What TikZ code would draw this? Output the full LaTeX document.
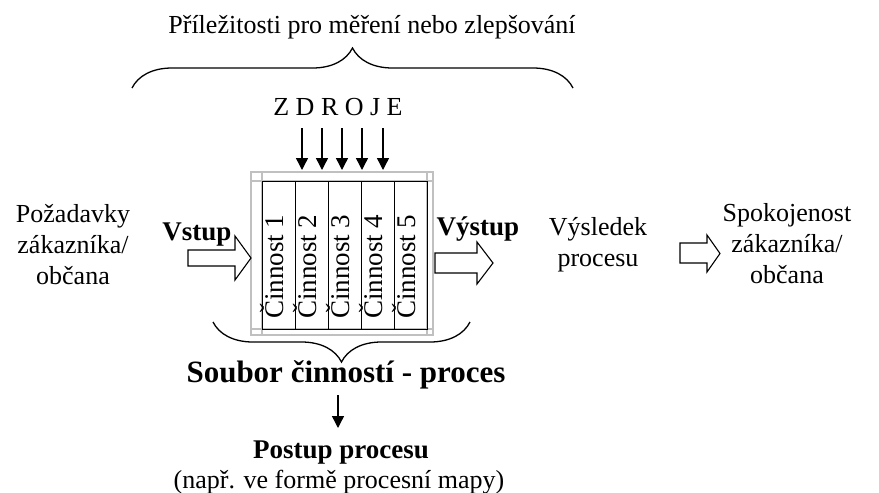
\documentclass[tikz,border=0pt]{standalone}
\usepackage{fontspec}
\setmainfont{Liberation Serif}
\usepackage{tikz}
\usetikzlibrary{
	arrows.meta,
	positioning,
	decorations.pathreplacing
}
\definecolor{frame}{RGB}{192,192,192}
\tikzset{
  % arrow
	cstra/.style      ={-{Triangle[length=12pt,width=12pt]}, line width=1.4pt}, % down arrow
	csthollow/.style  ={draw=black, line width=1.1pt, fill=white, line join=miter}, % open arrow
  % brace
	cstbrace/.style   ={line width=1.3pt, decorate, decoration={brace, amplitude=40pt}},
  % frame
	cstframe/.style   ={draw=frame, line width=1.2pt},
	cstcol/.style     ={draw=black, line width=1.2pt, minimum width=33, minimum height=148, inner sep=0, anchor=north west},
  % text
	csttext/.style    ={font=\fontsize{26}{31}\selectfont, align=center, inner sep=0},
	cstbold/.style    ={font=\fontsize{27}{31}\selectfont\bfseries, inner sep=0},
	cstcoltext/.style ={font=\fontsize{27}{31}\selectfont, inner sep=0, rotate=90, anchor=base west}
}
\begin{document}
\begin{tikzpicture}[x=1pt,y=-1pt]
	\useasboundingbox (0,0) rectangle (879,493);
	% top
	\node[csttext,anchor=base] (chance) at (372,33) {Příležitosti pro měření nebo zlepšování};
	\draw[cstbrace] (132,88) -- (573,88);
	\node[csttext,anchor=base] (zdroje) at (338,115) {Z D R O J E};
	\foreach \x in {302,322,342,362,383}{
		\coordinate (res\x) at (\x,128);
		\coordinate (act\x) at (\x,170);
		\draw[cstra] (res\x) -- (act\x);
	}
	% activities
	\draw[cstframe] (251,172) rectangle (433,335);
	\draw[cstframe] (251,181) -- (433,181) (251,329) -- (433,329)
		(262,172) -- (262,335) (427,172) -- (427,335);
	\foreach \i in {1,...,5}{
		\node[cstcol] (cin\i) at ({262+33*(\i-1)},181) {};
		\node[cstcoltext] (lab\i) at ({262+33*(\i-1)+21},319) {Činnost \i};
	}
	% left and right
	\node[csttext] (req) at (73,245) {Požadavky\\zákazníka/\\občana};
	\node[cstbold,anchor=base] (in) at (197,240) {Vstup};
	\draw[csthollow] (188,250) -- (235,250) -- (235,236) -- (251,258) -- (235,280) -- (235,266) -- (188,266) -- cycle;
	\node[cstbold,anchor=base] (out) at (478,235) {Výstup};
	\draw[csthollow] (435,253) -- (477,253) -- (477,242) -- (493,263) -- (477,284) -- (477,273) -- (435,273) -- cycle;
	\node[csttext] (result) at (598,245) {Výsledek\\procesu};
	\draw[csthollow] (680,243) -- (707,243) -- (707,235) -- (720,253.5) -- (707,272) -- (707,263) -- (680,263) -- cycle;
	\node[csttext] (satisf) at (787,244) {Spokojenost\\zákazníka/\\občana};
	% bottom
	\draw[cstbrace] (470,322) -- (213,322);
	\node[cstbold,font=\fontsize{31}{34}\selectfont\bfseries,anchor=base] (set) at (346,382) {Soubor činností - proces};
	\coordinate (dtop) at (338,395);
	\coordinate (dbot) at (338,428);
	\draw[cstra] (dtop) -- (dbot);
	\node[cstbold,anchor=base] (flow) at (341,458) {Postup procesu};
	\node[csttext,anchor=base] (map) at (339,488) {(např. ve formě procesní mapy)};
\end{tikzpicture}
\end{document}
